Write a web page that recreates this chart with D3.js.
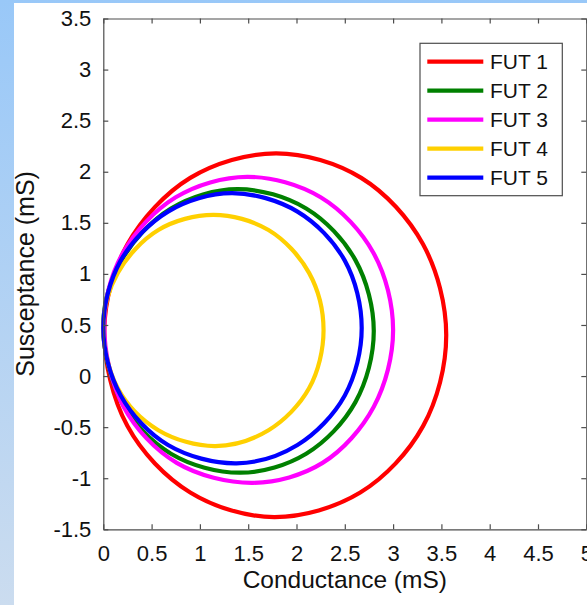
<!DOCTYPE html>
<html>
<head>
<meta charset="utf-8">
<script src="https://cdn.jsdelivr.net/npm/d3@7"></script>
<style>
  html, body { margin: 0; padding: 0; overflow: hidden; }
  svg { display: block; font-family: "Liberation Sans", Arial, sans-serif; }
</style>
</head>
<body>
<svg id="chart" width="587" height="605"></svg>
<script>
// ---- data ----
const seriesNames = ["FUT 1", "FUT 2", "FUT 3", "FUT 4", "FUT 5"];
const seriesColors = ["#ff0000", "#008000", "#ff00ff", "#ffd000", "#0000ff"];

// [conductance (mS), susceptance (mS)] points around each admittance loop
const fut1 = [[3.55,0.40],[3.31,1.29],[2.67,1.94],[1.79,2.18],[0.90,1.94],[0.25,1.29],[0.01,0.45],[0.25,-0.49],[0.90,-1.14],[1.77,-1.38],[2.66,-1.14],[3.31,-0.49]];
const fut2 = [[2.80,0.44],[2.61,1.135],[2.10,1.64],[1.39,1.83],[0.70,1.64],[0.19,1.135],[0.00,0.52],[0.19,-0.255],[0.70,-0.76],[1.42,-0.946],[2.10,-0.76],[2.61,-0.255]];
const fut3 = [[3.00,0.45],[2.80,1.20],[2.25,1.75],[1.49,1.95],[0.75,1.75],[0.20,1.20],[0.01,0.50],[0.21,-0.30],[0.76,-0.85],[1.55,-1.045],[2.27,-0.85],[2.80,-0.30]];
const fut4 = [[2.28,0.45],[2.13,1.01],[1.71,1.43],[1.14,1.577],[0.57,1.43],[0.15,1.01],[0.00,0.50],[0.15,-0.12],[0.57,-0.53],[1.16,-0.685],[1.71,-0.53],[2.13,-0.12]];
const fut5 = [[2.675,0.47],[2.50,1.13],[2.01,1.61],[1.33,1.79],[0.67,1.61],[0.18,1.13],[0.00,0.47],[0.18,-0.19],[0.67,-0.675],[1.38,-0.854],[2.01,-0.675],[2.50,-0.19]];
const seriesData = [fut1, fut2, fut3, fut4, fut5];

const xTicks = [0, 0.5, 1, 1.5, 2, 2.5, 3, 3.5, 4, 4.5, 5];
const xTickLabels = ["0", "0.5", "1", "1.5", "2", "2.5", "3", "3.5", "4", "4.5", "5"];
const yTicks = [-1.5, -1, -0.5, 0, 0.5, 1, 1.5, 2, 2.5, 3, 3.5];
const yTickLabels = ["-1.5", "-1", "-0.5", "0", "0.5", "1", "1.5", "2", "2.5", "3", "3.5"];
const xTitle = "Conductance (mS)";
const yTitle = "Susceptance (mS)";

// ---- layout ----
const svg = d3.select("#chart");
const W = 587, H = 605;
const pL = 103.3, pR = 586.3, pT = 18.5, pB = 529.3;

// background
const defs = svg.append("defs");
const grad = defs.append("linearGradient").attr("id", "bg").attr("x1", 0).attr("y1", 0).attr("x2", 0).attr("y2", 1);
grad.append("stop").attr("offset", "0%").attr("stop-color", "#99c8f8");
grad.append("stop").attr("offset", "100%").attr("stop-color", "#cbdcef");
svg.append("rect").attr("width", W).attr("height", H).attr("fill", "url(#bg)");
svg.append("rect").attr("x", 14).attr("y", 3).attr("width", W - 14).attr("height", H - 3).attr("fill", "#fff");

const x = d3.scaleLinear().domain([0, 5]).range([pL, pR]);
const y = d3.scaleLinear().domain([-1.5, 3.5]).range([pB, pT]);

const axisColor = "#4d4d4d";
const tickLen = 5;

// curves
const line = d3.line().x(d => x(d[0])).y(d => y(d[1])).curve(d3.curveCatmullRomClosed.alpha(0.5));
svg.append("g").selectAll("path").data(seriesData).join("path")
  .attr("d", d => line(d))
  .attr("fill", "none")
  .attr("stroke", (d, i) => seriesColors[i])
  .attr("stroke-width", 4.2);

// axes (ticks inward on all sides)
const fmtX = d => xTickLabels[xTicks.indexOf(d)];
const fmtY = d => yTickLabels[yTicks.indexOf(d)];

const gB = svg.append("g").attr("transform", `translate(0,${pB})`)
  .call(d3.axisBottom(x).tickValues(xTicks).tickFormat(fmtX).tickSizeInner(-tickLen).tickSizeOuter(0));
const gT = svg.append("g").attr("transform", `translate(0,${pT})`)
  .call(d3.axisTop(x).tickValues(xTicks).tickFormat("").tickSizeInner(-tickLen).tickSizeOuter(0));
const gL = svg.append("g").attr("transform", `translate(${pL},0)`)
  .call(d3.axisLeft(y).tickValues(yTicks).tickFormat(fmtY).tickSizeInner(-tickLen).tickSizeOuter(0).tickPadding(12));
const gR = svg.append("g").attr("transform", `translate(${pR},0)`)
  .call(d3.axisRight(y).tickValues(yTicks).tickFormat("").tickSizeInner(-tickLen).tickSizeOuter(0));

[gB, gT, gL, gR].forEach(g => {
  g.selectAll("path.domain").attr("stroke", axisColor).attr("stroke-width", 1.2);
  g.selectAll(".tick line").attr("stroke", axisColor).attr("stroke-width", 1.2);
  g.selectAll(".tick text").attr("fill", "#111").attr("font-size", 22).attr("font-family", "Liberation Sans, Arial, sans-serif");
});
gB.selectAll(".tick text").attr("dy", null).attr("y", 32);

// axis titles
svg.append("text").attr("x", (pL + pR) / 2).attr("y", 588)
  .attr("text-anchor", "middle").attr("font-size", 24.5).attr("fill", "#111").text(xTitle);
svg.append("text").attr("transform", `translate(34,${(pT + pB) / 2}) rotate(-90)`)
  .attr("text-anchor", "middle").attr("font-size", 25).attr("fill", "#111").text(yTitle);

// legend
const lg = svg.append("g");
lg.append("rect").attr("x", 420).attr("y", 43.3).attr("width", 142.3).attr("height", 152.4)
  .attr("fill", "#fff").attr("stroke", axisColor).attr("stroke-width", 1.2);
const rowY = d3.scaleLinear().domain([0, 4]).range([61.7, 177.7]);
seriesNames.forEach((name, i) => {
  lg.append("line").attr("x1", 427.3).attr("x2", 483.3).attr("y1", rowY(i)).attr("y2", rowY(i))
    .attr("stroke", seriesColors[i]).attr("stroke-width", 4.2);
  lg.append("text").attr("x", 490).attr("y", rowY(i)).attr("dy", "0.36em")
    .attr("font-size", 21).attr("fill", "#111").text(name);
});
</script>
</body>
</html>
